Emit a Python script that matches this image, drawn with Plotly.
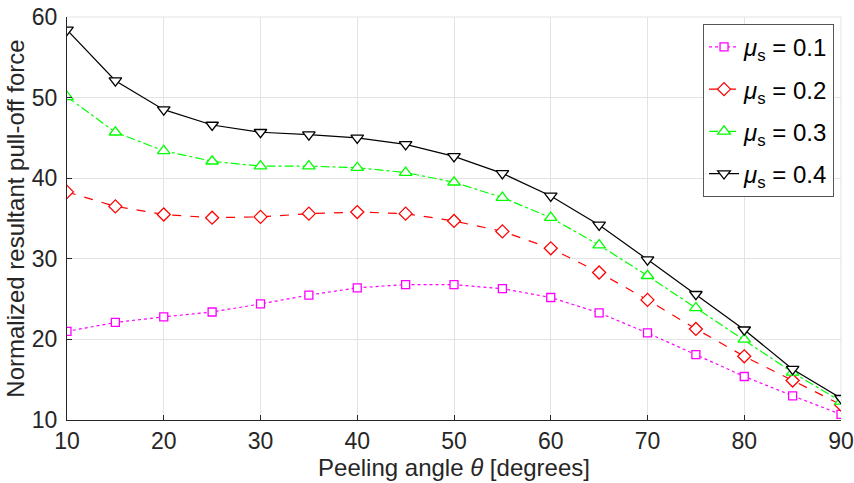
import plotly.graph_objects as go

angles = [10, 15, 20, 25, 30, 35, 40, 45, 50, 55, 60, 65, 70, 75, 80, 85, 90]
mu_01 = [21.0, 22.1, 22.8, 23.4, 24.4, 25.5, 26.4, 26.8, 26.8, 26.3, 25.2, 23.3, 20.8, 18.1, 15.4, 13.0, 10.7]
mu_02 = [38.3, 36.5, 35.5, 35.1, 35.2, 35.6, 35.8, 35.6, 34.7, 33.4, 31.3, 28.3, 24.9, 21.3, 17.9, 14.9, 11.9]
mu_03 = [50.1, 45.7, 43.4, 42.1, 41.5, 41.5, 41.3, 40.7, 39.5, 37.6, 35.1, 31.7, 27.9, 23.9, 20.0, 15.9, 12.3]
mu_04 = [58.4, 52.1, 48.5, 46.6, 45.7, 45.4, 45.0, 44.2, 42.7, 40.6, 37.8, 34.2, 29.9, 25.6, 21.2, 16.3, 12.7]
labels = ["0.1", "0.2", "0.3", "0.4"]

series = [
    (mu_01, "#ff00ff", "dot", "square", 8),
    (mu_02, "#ff0000", "dash", "diamond", 10),
    (mu_03, "#00ff00", "dashdot", "triangle-up", 11),
    (mu_04, "#000000", "solid", "triangle-down", 11),
]

fig = go.Figure()
for (vals, col, dash, sym, size), lab in zip(series, labels):
    fig.add_trace(go.Scatter(
        x=angles, y=vals, mode="lines+markers",
        name="<i>μ</i><sub>s</sub> = " + lab,
        legendgroup=lab,
        line=dict(color=col, width=1.2, dash=dash),
        marker=dict(symbol=sym, size=size, color="white",
                    line=dict(color=col, width=1.3)),
    ))

font = "Liberation Sans, Arial, sans-serif"
fig.update_layout(
    width=854, height=483,
    margin=dict(l=67, r=13, t=17, b=63, autoexpand=False),
    paper_bgcolor="white", plot_bgcolor="white",
    font=dict(family=font, size=23, color="#262626"),
    showlegend=True,
    legend=dict(x=0.991, y=0.983, xanchor="right", yanchor="top",
                bgcolor="white", bordercolor="#555555", borderwidth=1,
                font=dict(size=24, color="#000000"),
                tracegroupgap=8, itemwidth=30),
)
fig.update_xaxes(
    range=[10, 90], tickvals=[10, 20, 30, 40, 50, 60, 70, 80, 90],
    automargin=False,
    showgrid=True, gridcolor="#e3e3e3", gridwidth=1,
    showline=True, linecolor="#262626", linewidth=1, mirror=False,
    ticks="inside", ticklen=5, tickcolor="#262626",
    tickfont=dict(size=23, color="#262626"), zeroline=False,
    title=dict(text="Peeling angle <i>θ</i> [degrees]", font=dict(size=24, color="#262626"), standoff=0),
)
fig.update_yaxes(
    range=[10, 60], tickvals=[10, 20, 30, 40, 50, 60],
    automargin=False,
    showgrid=True, gridcolor="#e3e3e3", gridwidth=1,
    showline=True, linecolor="#262626", linewidth=1, mirror=False,
    ticks="inside", ticklen=5, tickcolor="#262626", ticklabelstandoff=4,
    tickfont=dict(size=23, color="#262626"), zeroline=False,
    title=dict(text="Normalized resultant pull-off force", font=dict(size=24, color="#262626"), standoff=0),
)
# light frame on top/right
fig.add_shape(type="line", xref="paper", yref="paper", x0=0, x1=1, y0=1, y1=1,
              line=dict(color="#e3e3e3", width=1), layer="below")
fig.add_shape(type="line", xref="paper", yref="paper", x0=1, x1=1, y0=0, y1=1,
              line=dict(color="#e3e3e3", width=1), layer="below")

fig.write_html("out.html", config={"displayModeBar": False},
               post_script="document.body.style.margin='0';document.body.style.overflow='hidden';")
